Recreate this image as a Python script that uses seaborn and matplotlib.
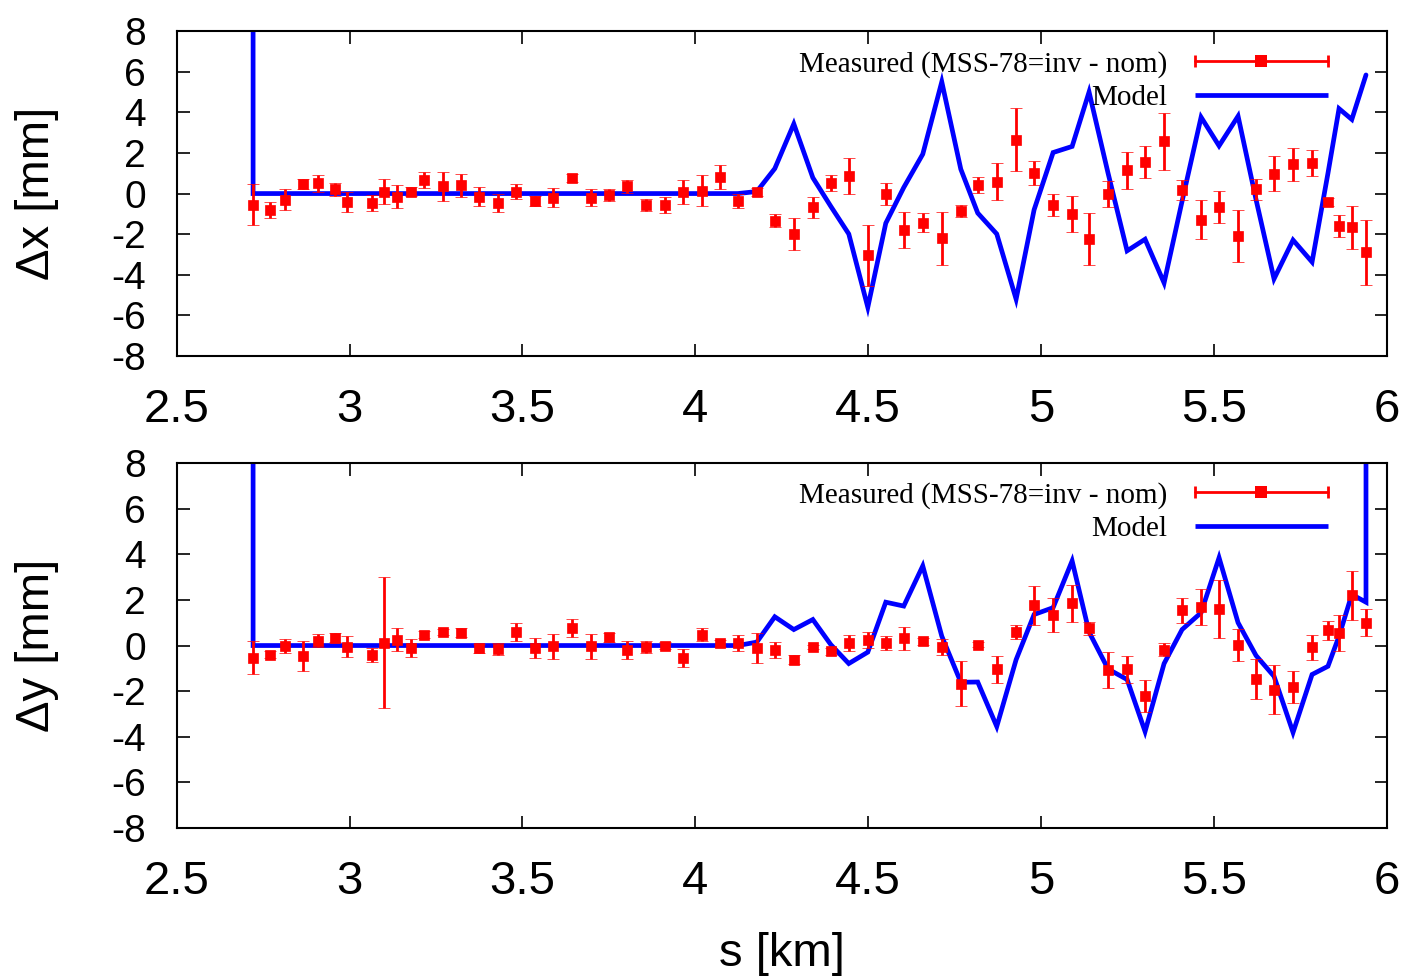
import matplotlib
matplotlib.use("Agg")
import matplotlib.pyplot as plt
import numpy as np
import pandas as pd
import seaborn as sns
from matplotlib.legend_handler import HandlerBase
from matplotlib.lines import Line2D

# ---------------- data ----------------
s_km = [2.721, 2.770, 2.814, 2.865, 2.909, 2.958, 2.993, 3.065, 3.099, 3.137,
        3.178, 3.215, 3.270, 3.322, 3.374, 3.429, 3.481, 3.536, 3.588, 3.643,
        3.698, 3.750, 3.802, 3.857, 3.912, 3.964, 4.019, 4.071, 4.123, 4.178,
        4.230, 4.285, 4.340, 4.392, 4.444, 4.499, 4.551, 4.603, 4.658, 4.713,
        4.768, 4.817, 4.872, 4.928, 4.980, 5.035, 5.090, 5.139, 5.194, 5.249,
        5.301, 5.356, 5.408, 5.463, 5.515, 5.570, 5.622, 5.674, 5.729, 5.784,
        5.830, 5.862, 5.899, 5.940]

dx_meas = [-0.55, -0.80, -0.30, 0.45, 0.50, 0.20, -0.43, -0.45, 0.10, -0.15,
           0.10, 0.65, 0.35, 0.40, -0.15, -0.45, 0.10, -0.35, -0.20, 0.75,
           -0.20, -0.08, 0.35, -0.55, -0.58, 0.08, 0.15, 0.80, -0.38, 0.07,
           -1.33, -2.00, -0.68, 0.53, 0.86, -3.03, -0.02, -1.80, -1.43, -2.20,
           -0.85, 0.41, 0.58, 2.64, 1.00, -0.55, -1.00, -2.24, -0.02, 1.14,
           1.56, 2.57, 0.17, -1.29, -0.66, -2.09, 0.20, 0.98, 1.44, 1.49,
           -0.41, -1.59, -1.66, -2.90]
dx_err = [1.00, 0.40, 0.50, 0.25, 0.40, 0.30, 0.50, 0.40, 0.60, 0.55,
          0.20, 0.40, 0.70, 0.55, 0.45, 0.45, 0.35, 0.25, 0.45, 0.20,
          0.40, 0.30, 0.30, 0.30, 0.40, 0.60, 0.75, 0.60, 0.35, 0.20,
          0.30, 0.80, 0.50, 0.40, 0.90, 1.50, 0.55, 0.90, 0.45, 1.30,
          0.30, 0.40, 0.90, 1.55, 0.60, 0.55, 0.90, 1.30, 0.65, 0.90,
          0.80, 1.40, 0.50, 0.95, 0.80, 1.30, 0.50, 0.85, 0.80, 0.65,
          0.20, 0.55, 1.05, 1.60]

dy_meas = [-0.54, -0.40, -0.03, -0.47, 0.22, 0.35, -0.05, -0.43, 0.12, 0.26,
           -0.10, 0.48, 0.59, 0.56, -0.13, -0.15, 0.59, -0.10, -0.03, 0.78,
           -0.03, 0.37, -0.18, -0.06, 0.00, -0.54, 0.48, 0.09, 0.12, -0.10,
           -0.18, -0.62, -0.06, -0.25, 0.12, 0.26, 0.12, 0.31, 0.19, -0.06,
           -1.67, 0.04, -1.05, 0.59, 1.76, 1.33, 1.85, 0.75, -1.08, -1.05,
           -2.20, -0.18, 1.54, 1.69, 1.61, 0.04, -1.47, -1.93, -1.83, -0.07,
           0.66, 0.56, 2.20, 1.00]
dy_err = [0.72, 0.15, 0.30, 0.65, 0.30, 0.20, 0.45, 0.30, 2.87, 0.50,
          0.40, 0.15, 0.15, 0.20, 0.20, 0.25, 0.40, 0.45, 0.55, 0.40,
          0.55, 0.20, 0.40, 0.25, 0.15, 0.40, 0.30, 0.15, 0.35, 0.65,
          0.35, 0.20, 0.10, 0.15, 0.35, 0.35, 0.30, 0.50, 0.15, 0.35,
          0.97, 0.10, 0.60, 0.30, 0.85, 0.75, 0.80, 0.30, 0.80, 0.60,
          0.70, 0.30, 0.55, 0.80, 1.28, 0.70, 0.88, 1.06, 0.70, 0.55,
          0.40, 0.80, 1.08, 0.60]

# model: first entry is the off-scale start (vertical line at first BPM)
model_dx = [30.0] + [0.0] * 29 + [
    0.10, 1.23, 3.43, 0.78, -0.63, -1.99, -5.60, -1.46, 0.30, 1.94,
    5.50, 1.20, -0.96, -1.99, -5.20, -0.80, 2.02, 2.32, 5.00, 1.00,
    -2.82, -2.25, -4.40, -0.38, 3.76, 2.35, 3.81, -0.30, -4.20, -2.29,
    -3.37, 1.00, 4.18, 3.65, 5.84]
model_dx_s = [s_km[0]] + s_km

# model y: starts and ends with off-scale values (vertical lines)
model_dy = [30.0] + [0.0] * 29 + [
    0.15, 1.26, 0.70, 1.14, 0.04, -0.79, -0.29, 1.90, 1.73, 3.49,
    0.41, -1.61, -1.60, -3.55, -0.62, 1.36, 1.66, 3.71, 0.59, -1.03,
    -1.49, -3.77, -0.79, 0.70, 1.44, 3.85, 1.00, -0.44, -1.35, -3.81,
    -1.27, -0.91, 0.41, 2.24, 1.90] + [30.0]
model_dy_s = [s_km[0]] + s_km + [s_km[-1]]

x_ticks = [2.5, 3.0, 3.5, 4.0, 4.5, 5.0, 5.5, 6.0]
x_tick_labels = ["2.5", "3", "3.5", "4", "4.5", "5", "5.5", "6"]
y_ticks = [-8, -6, -4, -2, 0, 2, 4, 6, 8]
y_tick_labels = ["-8", "-6", "-4", "-2", "0", "2", "4", "6", "8"]

meas_label = "Measured (MSS-78=inv - nom)"
model_label = "Model"

# ---------------- style ----------------
sns.set_theme(style="ticks")
plt.rcParams["font.family"] = ["Liberation Sans", "DejaVu Sans"]
plt.rcParams["axes.linewidth"] = 1.5
plt.rcParams["text.color"] = "black"
plt.rcParams["axes.labelcolor"] = "black"
plt.rcParams["xtick.color"] = "black"
plt.rcParams["ytick.color"] = "black"

RED = "#ff0000"
BLUE = "#0000ff"
LW_MODEL = 3.4
LW_ERR = 2.0


class HandlerHErr(HandlerBase):
    def create_artists(self, legend, orig_handle, xdescent, ydescent,
                       width, height, fontsize, trans):
        x0 = -xdescent
        x1 = -xdescent + width
        y = (height - ydescent) / 2
        line = Line2D([x0, x1], [y, y], color=RED, lw=LW_ERR, transform=trans)
        caps = Line2D([x0, x1], [y, y], color=RED, lw=0, marker="|",
                      ms=8.5, mew=LW_ERR, transform=trans)
        mk = Line2D([(x0 + x1) / 2], [y], color=RED, lw=0, marker="s",
                    ms=8, mew=0, transform=trans)
        return [line, caps, mk]


class HandlerModel(HandlerBase):
    def create_artists(self, legend, orig_handle, xdescent, ydescent,
                       width, height, fontsize, trans):
        x0 = -xdescent
        x1 = -xdescent + width
        y = (height - ydescent) / 2
        line = Line2D([x0, x1], [y, y], color=BLUE, lw=LW_MODEL,
                      solid_capstyle="butt", transform=trans)
        return [line]


fig = plt.figure(figsize=(14.09, 9.80), dpi=100)
ax_top = fig.add_axes([0.1254, 0.6367, 0.8588, 0.3316])
ax_bot = fig.add_axes([0.1254, 0.1551, 0.8588, 0.3724])

panels = [
    (ax_top, model_dx_s, model_dx, dx_meas, dx_err, "\u0394x [mm]", 0.940),
    (ax_bot, model_dy_s, model_dy, dy_meas, dy_err, "\u0394y [mm]", 0.949),
]

for ax, ms_, mv_, meas, err, ylab, leg_y in panels:
    mdf = pd.DataFrame({"s": ms_, "v": mv_})
    sns.lineplot(data=mdf, x="s", y="v", ax=ax, sort=False, estimator=None,
                 color=BLUE, lw=LW_MODEL, zorder=2)
    for ln in ax.get_lines():
        ln.set_solid_joinstyle("miter")
    ax.errorbar(s_km, meas, yerr=err, fmt="s", color=RED, ms=7.8,
                markeredgecolor=RED, markeredgewidth=0.5,
                elinewidth=LW_ERR, capsize=4.3, capthick=LW_ERR, zorder=3)

    ax.set_xlim(2.5, 6.0)
    ax.set_ylim(-8, 8)
    ax.set_xticks(x_ticks)
    ax.set_xticklabels(x_tick_labels)
    ax.set_yticks(y_ticks)
    ax.set_yticklabels(y_tick_labels)
    ax.tick_params(axis="both", which="major", direction="in", length=9,
                   width=1.2, color="black", labelcolor="black",
                   top=True, right=True)
    ax.tick_params(axis="x", labelsize=34, pad=23)
    ax.tick_params(axis="y", labelsize=28, pad=22)
    for sp in ax.spines.values():
        sp.set_visible(True)
        sp.set_color("black")
        sp.set_linewidth(1.5)
    ax.set_xlabel("")
    ax.set_ylabel(ylab, fontsize=34, color="black")
    ax.yaxis.set_label_coords(-0.097, 0.5)

    handles = [Line2D([], [], color=RED), Line2D([], [], color=BLUE)]
    leg = ax.legend(handles, [meas_label, model_label],
                    handler_map={handles[0]: HandlerHErr(), handles[1]: HandlerModel()},
                    loc="upper right", bbox_to_anchor=(0.9515, leg_y),
                    frameon=False, markerfirst=False, borderpad=0, borderaxespad=0,
                    handlelength=4.57, handletextpad=0.93, labelspacing=0.24,
                    prop={"family": ["Liberation Serif"], "size": 21})
    for t in leg.get_texts():
        t.set_color("black")

ax_bot.set_xlabel("s [km]", fontsize=34, color="black")
ax_bot.xaxis.set_label_coords(0.5, -0.285)

fig.savefig("out.png", dpi=100, facecolor="white")
